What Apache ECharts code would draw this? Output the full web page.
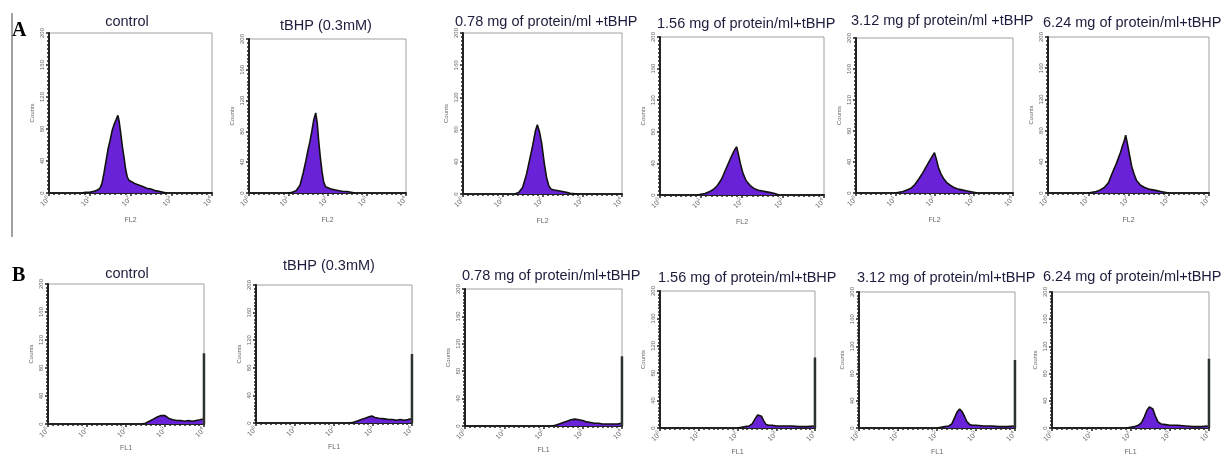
<!DOCTYPE html>
<html>
<head>
<meta charset="utf-8">
<script src="https://cdn.jsdelivr.net/npm/echarts@6/dist/echarts.min.js"></script>
<style>html,body{margin:0;padding:0;background:#fff}#c{width:1223px;height:457px}</style>
</head>
<body>
<div id="c"></div>
<script>
// ---- data (x = log10 of fluorescence intensity, y = counts) ----
const titlesA = ['control', 'tBHP (0.3mM)', '0.78 mg of protein/ml +tBHP', '1.56 mg of protein/ml+tBHP', '3.12 mg pf protein/ml +tBHP', '6.24 mg of protein/ml+tBHP'];
const titlesB = ['control', 'tBHP (0.3mM)', '0.78 mg of protein/ml+tBHP', '1.56 mg of protein/ml+tBHP', '3.12 mg of protein/ml+tBHP', '6.24 mg of protein/ml+tBHP'];
const xTickDecades = [0, 1, 2, 3, 4];
const yTicks = [0, 40, 80, 120, 160, 200];
const xNameA = 'FL2';
const xNameB = 'FL1';
const yName = 'Counts';

const A1_control = [[0.8,0],[0.9,1],[1.0,1],[1.1,2],[1.2,4],[1.25,6],[1.3,12],[1.35,25],[1.4,40],[1.45,55],[1.5,66],[1.55,78],[1.6,86],[1.65,92],[1.69,97],[1.72,90],[1.76,75],[1.8,58],[1.84,45],[1.88,30],[1.92,20],[1.96,16],[2.0,14],[2.1,12],[2.2,10],[2.3,8],[2.4,6],[2.5,5],[2.6,3],[2.7,2],[2.8,1],[2.9,0]];
const A2_tBHP = [[1.0,0],[1.1,1],[1.2,3],[1.3,10],[1.38,26],[1.45,42],[1.5,55],[1.55,66],[1.6,80],[1.65,95],[1.7,104],[1.74,90],[1.78,65],[1.82,45],[1.86,28],[1.9,15],[1.95,8],[2.0,6],[2.1,5],[2.2,4],[2.3,3],[2.4,2],[2.5,2],[2.6,1],[2.7,0]];
const A3_078 = [[1.3,0],[1.4,2],[1.5,8],[1.6,25],[1.7,48],[1.76,62],[1.82,78],[1.87,86],[1.92,78],[1.98,63],[2.04,40],[2.1,21],[2.16,10],[2.22,6],[2.3,5],[2.4,4],[2.5,3],[2.6,2],[2.7,1],[2.9,0]];
const A4_156 = [[0.9,0],[1.0,1],[1.1,2],[1.2,4],[1.3,7],[1.4,12],[1.5,20],[1.6,32],[1.7,44],[1.78,53],[1.83,58],[1.87,61],[1.91,52],[1.96,40],[2.02,28],[2.1,18],[2.2,12],[2.3,8],[2.4,6],[2.5,5],[2.6,4],[2.7,3],[2.8,2],[2.9,0]];
const A5_312 = [[1.0,0],[1.1,1],[1.2,2],[1.3,4],[1.4,6],[1.5,11],[1.6,18],[1.7,26],[1.8,35],[1.88,42],[1.95,48],[2.0,52],[2.04,45],[2.1,33],[2.16,25],[2.24,18],[2.32,13],[2.4,10],[2.5,7],[2.6,5],[2.7,4],[2.8,3],[2.9,2],[3.0,1],[3.1,0]];
const A6_624 = [[1.0,0],[1.1,1],[1.2,2],[1.3,4],[1.4,7],[1.5,13],[1.6,26],[1.7,38],[1.8,52],[1.86,62],[1.9,68],[1.93,74],[1.97,64],[2.02,50],[2.08,34],[2.14,24],[2.2,16],[2.3,10],[2.4,7],[2.5,5],[2.6,4],[2.7,3],[2.8,2],[2.9,1],[3.0,0]];

const B1_control = [[2.4,0],[2.5,1],[2.6,4],[2.7,7],[2.8,10],[2.9,12],[2.95,13],[3.0,12],[3.1,8],[3.2,6],[3.3,5],[3.4,5],[3.5,4],[3.6,5],[3.7,4],[3.8,5],[3.9,6],[3.97,7]];
const B2_tBHP = [[2.4,0],[2.5,1],[2.6,3],[2.7,5],[2.8,7],[2.9,9],[2.97,10],[3.05,8],[3.15,7],[3.2,8],[3.3,6],[3.4,5],[3.5,5],[3.6,4],[3.7,5],[3.8,4],[3.9,5],[3.97,6]];
const B3_078 = [[2.2,0],[2.3,1],[2.4,3],[2.5,5],[2.6,7],[2.7,9],[2.8,10],[2.9,9],[3.0,8],[3.1,6],[3.2,5],[3.3,4],[3.4,4],[3.5,3],[3.6,3],[3.7,3],[3.8,3],[3.9,3],[3.97,4]];
const B4_156 = [[2.0,0],[2.1,1],[2.2,2],[2.3,3],[2.38,6],[2.45,13],[2.52,19],[2.56,21],[2.62,17],[2.68,10],[2.74,5],[2.8,4],[2.9,4],[3.0,3],[3.2,3],[3.4,3],[3.6,2],[3.8,2],[3.97,3]];
const B5_312 = [[2.0,0],[2.1,1],[2.2,2],[2.3,3],[2.38,6],[2.45,15],[2.52,24],[2.58,28],[2.63,25],[2.7,18],[2.76,10],[2.84,5],[2.9,4],[3.0,4],[3.2,3],[3.4,3],[3.6,2],[3.8,2],[3.97,3]];
const B6_624 = [[1.9,0],[2.0,1],[2.1,2],[2.2,4],[2.28,8],[2.35,16],[2.42,26],[2.48,31],[2.52,33],[2.57,28],[2.63,18],[2.7,9],[2.78,6],[2.9,5],[3.0,4],[3.2,4],[3.4,3],[3.6,2],[3.8,2],[3.97,3]];
// pile-up in the last channel (10^4) of the FL1 histograms
const B_lastChannel = [101, 100, 102, 103, 100, 102];

const seriesA = [A1_control, A2_tBHP, A3_078, A4_156, A5_312, A6_624];
const seriesB = [B1_control, B2_tBHP, B3_078, B4_156, B5_312, B6_624];

// ---- layout (pixels) ----
const gridsA = [[49,33,163,160],[249,39,157,154],[463,33,159,161],[660,37,164,158],[856,38,157,155],[1048,37,161,156]];
const gridsB = [[48,284,156,140],[256,285,156,138],[465,289,157,137],[660,291,155,137],[859,292,156,137],[1052,292,157,139]];
const titlePosA = [[127,14,'center'],[326,18,'center'],[455,14,'left'],[657,16,'left'],[851,13,'left'],[1043,15,'left']];
const titlePosB = [[127,266,'center'],[329,258,'center'],[462,268,'left'],[658,270,'left'],[857,270,'left'],[1043,269,'left']];

const FILL = '#6a22d8';
const grid = [], xAxis = [], yAxis = [], series = [], title = [];

function addPanel(g, data, name, tpos, ttext, lastCh) {
  const i = grid.length;
  grid.push({left: g[0], top: g[1], width: g[2], height: g[3], show: true, borderColor: '#a0a0a0', borderWidth: 1, containLabel: false});
  xAxis.push({
    gridIndex: i, type: 'value', min: xTickDecades[0], max: xTickDecades[xTickDecades.length-1], interval: 1,
    name: name, nameLocation: 'middle', nameGap: name === 'FL2' ? 24 : 21,
    nameTextStyle: {fontSize: 7, color: '#666', fontFamily: 'Liberation Sans'},
    axisLine: {show: true, lineStyle: {color: '#1f241f', width: 2}},
    axisTick: {show: true, length: 3, lineStyle: {color: '#222', width: 1.5}},
    minorTick: {show: true, splitNumber: 8, length: 2, lineStyle: {color: '#222', width: 1.5}},
    splitLine: {show: false},
    axisLabel: {
      rotate: 45, margin: 5, color: '#666', fontFamily: 'Liberation Sans',
      formatter: v => '{a|10}{b|' + v + '}',
      rich: {a: {fontSize: 7, color: '#666'}, b: {fontSize: 5, color: '#666', padding: [0,0,5,0]}}
    }
  });
  yAxis.push({
    gridIndex: i, type: 'value', min: yTicks[0], max: yTicks[yTicks.length-1], interval: yTicks[1]-yTicks[0],
    name: yName, nameLocation: 'middle', nameGap: 14, nameRotate: 90,
    nameTextStyle: {fontSize: 6, color: '#666', fontFamily: 'Liberation Sans'},
    axisLine: {show: true, lineStyle: {color: '#1f241f', width: 2}},
    axisTick: {show: true, length: 3, lineStyle: {color: '#222', width: 1.5}},
    minorTick: {show: true, splitNumber: 8, length: 2, lineStyle: {color: '#222', width: 1.5}},
    splitLine: {show: false},
    axisLabel: {rotate: 90, margin: 4, fontSize: 6, color: '#666', fontFamily: 'Liberation Sans'}
  });
  series.push({
    type: 'line', xAxisIndex: i, yAxisIndex: i, data: data, showSymbol: false, silent: true,
    lineStyle: {color: '#111', width: 1.6}, areaStyle: {color: FILL, opacity: 1}, z: 3
  });
  if (lastCh !== undefined) {
    const xm = xTickDecades[xTickDecades.length-1];
    series.push({
      type: 'line', xAxisIndex: i, yAxisIndex: i, data: [[xm - 0.001, 0], [xm - 0.001, lastCh]], showSymbol: false, silent: true,
      lineStyle: {color: '#2c332e', width: 2.5}, z: 4
    });
  }
  title.push({text: ttext, left: tpos[0], top: tpos[1], textAlign: tpos[2], padding: 0,
    textStyle: {fontSize: 14.5, fontWeight: 'normal', color: '#1c1c3c', fontFamily: 'Liberation Sans'}});
}

for (let k = 0; k < 6; k++) addPanel(gridsA[k], seriesA[k], xNameA, titlePosA[k], titlesA[k]);
for (let k = 0; k < 6; k++) addPanel(gridsB[k], seriesB[k], xNameB, titlePosB[k], titlesB[k], B_lastChannel[k]);

const chart = echarts.init(document.getElementById('c'), null, {renderer: 'canvas'});
chart.setOption({
  animation: false,
  backgroundColor: '#fff',
  title, grid, xAxis, yAxis, series,
  graphic: [
    {type: 'line', shape: {x1: 12, y1: 13, x2: 12, y2: 237}, style: {stroke: '#444', lineWidth: 1}},
    {type: 'text', left: 12, top: 21, style: {text: 'A', font: 'bold 20px "Liberation Serif"', fill: '#000'}},
    {type: 'text', left: 12, top: 266, style: {text: 'B', font: 'bold 20px "Liberation Serif"', fill: '#000'}}
  ]
});
</script>
</body>
</html>
